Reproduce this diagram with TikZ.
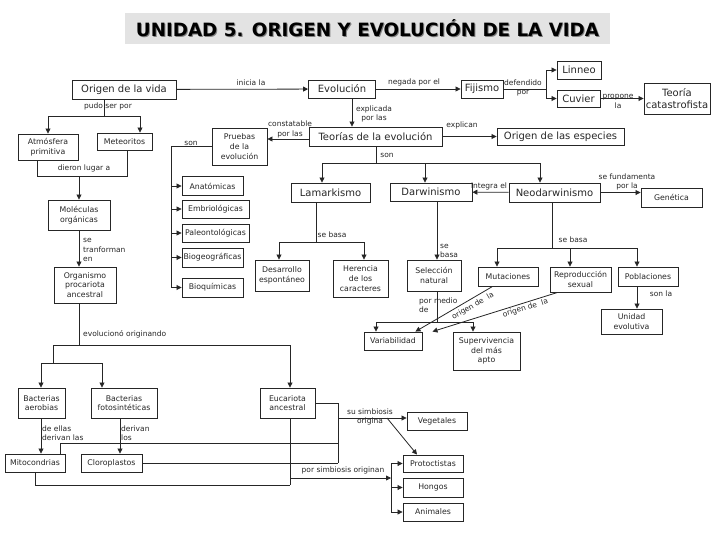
\documentclass[tikz,border=0pt]{standalone}
\usepackage{fontspec}
\setmainfont{DejaVu Sans}
\usetikzlibrary{arrows.meta,positioning}
\tikzset{>={Triangle[length=5pt,width=5pt]}}
\colorlet{penColor}{black!85}
\colorlet{titleFill}{gray!22}
\tikzset{
  bigBox/.style={draw=penColor,line width=0.9pt,text=penColor,inner sep=1pt,align=center,font=\fontsize{10}{12.5}\selectfont},
  smallBox/.style={draw=penColor,line width=0.9pt,text=penColor,inner sep=0.5pt,align=center,font=\fontsize{7.8}{9.6}\selectfont},
  linkText/.style={text=penColor,inner sep=0pt,font=\fontsize{7.5}{9.5}\selectfont},
  link/.style={draw=penColor,line width=0.8pt},
}

\begin{document}
\begin{tikzpicture}[x=1pt,y=-1pt]
\useasboundingbox (0,0) rectangle (728,546);
% titulo
\node[fill=titleFill,minimum width=485pt,minimum height=31pt] (titulo) at (367.5,28) {};
\node[text=gray,font=\bfseries\fontsize{18.3}{20}\selectfont] at ([shift={(1pt,-1pt)}]titulo.center) {UNIDAD 5. ORIGEN Y EVOLUCIÓN DE LA VIDA};
\node[text=black,font=\bfseries\fontsize{18.3}{20}\selectfont] at (titulo.center) {UNIDAD 5. ORIGEN Y EVOLUCIÓN DE LA VIDA};

% fila superior
\node[bigBox,minimum width=104pt,minimum height=19pt] (origen) at (124,89.5) {Origen de la vida};
\node[bigBox,minimum width=67pt,minimum height=18pt] (evol) at (342,89) {Evolución};
\node[bigBox,minimum width=42pt,minimum height=18pt] (fij) at (482,89) {Fijismo};
\node[bigBox,minimum width=44pt,minimum height=18pt] (linneo) at (579,70) {Linneo};
\node[bigBox,minimum width=43pt,minimum height=17pt] (cuvier) at (578.5,98.5) {Cuvier};
\node[bigBox,minimum width=66pt,minimum height=31pt] (catas) at (677,98.5) {Teoría\\catastrofista};
\node[bigBox,minimum width=133pt,minimum height=19pt] (teor) at (375.5,136.5) {Teorías de la evolución};
\node[bigBox,minimum width=127pt,minimum height=17pt] (espec) at (560.5,136.5) {Origen de las especies};
\node[smallBox,minimum width=55pt,minimum height=37pt] (pruebas) at (239.5,146.5) {Pruebas\\de la\\evolución};

% columna izquierda
\node[smallBox,minimum width=60pt,minimum height=26pt] (atmos) at (48,147) {Atmósfera\\primitiva};
\node[smallBox,minimum width=55pt,minimum height=17pt] (meteor) at (124.5,141.5) {Meteoritos};
\node[smallBox,minimum width=62pt,minimum height=30pt] (molec) at (79,215) {Moléculas\\orgánicas};
\node[smallBox,minimum width=62pt,minimum height=36pt] (organ) at (85,285) {Organismo\\procariota\\ancestral};
\node[smallBox,minimum width=47pt,minimum height=30pt] (bacaer) at (41.5,403) {Bacterias\\aerobias};
\node[smallBox,minimum width=66pt,minimum height=30pt] (bacfot) at (124,403) {Bacterias\\fotosintéticas};
\node[smallBox,minimum width=55pt,minimum height=30pt] (eucar) at (287.5,403) {Eucariota\\ancestral};
\node[smallBox,minimum width=60pt,minimum height=18pt] (mitoc) at (35,463) {Mitocondrias};
\node[smallBox,minimum width=61pt,minimum height=18pt] (clorop) at (111.5,463) {Cloroplastos};

% pruebas
\node[smallBox,minimum width=61pt,minimum height=19pt] (anat) at (212.5,186) {Anatómicas};
\node[smallBox,minimum width=67pt,minimum height=18pt] (embri) at (215.5,209) {Embriológicas};
\node[smallBox,minimum width=67pt,minimum height=18pt] (paleo) at (215.5,233) {Paleontológicas};
\node[smallBox,minimum width=61pt,minimum height=19pt] (biogeo) at (212.5,257.5) {Biogeográficas};
\node[smallBox,minimum width=61pt,minimum height=19pt] (bioq) at (212.5,287.5) {Bioquímicas};

% teorias
\node[bigBox,minimum width=79pt,minimum height=19pt] (lamar) at (330.5,192.5) {Lamarkismo};
\node[bigBox,minimum width=82pt,minimum height=18pt] (darw) at (431,192) {Darwinismo};
\node[bigBox,minimum width=91pt,minimum height=19pt] (neo) at (554.5,192.5) {Neodarwinismo};
\node[smallBox,minimum width=61pt,minimum height=19pt] (genet) at (671.5,197.5) {Genética};
\node[smallBox,minimum width=54pt,minimum height=31pt] (desarr) at (282,275.5) {Desarrollo\\espontáneo};
\node[smallBox,minimum width=55pt,minimum height=37pt] (heren) at (360.5,278.5) {Herencia\\de los\\caracteres};
\node[smallBox,minimum width=54pt,minimum height=31pt] (selec) at (434,275.5) {Selección\\natural};
\node[smallBox,minimum width=60pt,minimum height=19pt] (mutac) at (508,276.5) {Mutaciones};
\node[smallBox,minimum width=61pt,minimum height=25pt] (reprod) at (580.5,279.5) {Reproducción\\sexual};
\node[smallBox,minimum width=60pt,minimum height=19pt] (poblac) at (648,276.5) {Poblaciones};
\node[smallBox,minimum width=61pt,minimum height=25pt] (unidad) at (631.5,321.5) {Unidad\\evolutiva};
\node[smallBox,minimum width=58pt,minimum height=18pt] (variab) at (393,341) {Variabilidad};
\node[smallBox,minimum width=67pt,minimum height=38pt] (superv) at (486.5,351) {Supervivencia\\del más\\apto};

% reinos
\node[smallBox,minimum width=60pt,minimum height=18pt] (veget) at (437,421) {Vegetales};
\node[smallBox,minimum width=60pt,minimum height=17pt] (protoc) at (433,463.5) {Protoctistas};
\node[smallBox,minimum width=60pt,minimum height=19pt] (hongos) at (433,487.5) {Hongos};
\node[smallBox,minimum width=60pt,minimum height=18pt] (animal) at (433,512) {Animales};

% textos de enlace
\node[linkText] at (251,83) {inicia la};
\node[linkText] at (414,82) {negada por el};
\node[linkText,align=center] at (523,88) {defendido\\por};
\node[linkText,align=center] at (618,101.5) {propone\\la};
\node[linkText,align=center] at (374,114) {explicada\\por las};
\node[linkText,align=center] at (290,129.5) {constatable\\por las};
\node[linkText] at (462,125) {explican};
\node[linkText] at (191,143) {son};
\node[linkText] at (108,106) {pudo ser por};
\node[linkText] at (84,168) {dieron lugar a};
\node[linkText,align=left,anchor=west] at (83,250) {se\\tranforman\\en};
\node[linkText,anchor=west] at (83,334) {evolucionó originando};
\node[linkText,align=left,anchor=west] at (42,433) {de ellas\\derivan las};
\node[linkText,align=left,anchor=west] at (121,433) {derivan\\los};
\node[linkText,align=center] at (370,417) {su simbiosis\\origina};
\node[linkText] at (343,470) {por simbiosis originan};
\node[linkText] at (387,155) {son};
\node[linkText] at (489,186) {integra el};
\node[linkText,align=center] at (627,182) {se fundamenta\\por la};
\node[linkText] at (332,235) {se basa};
\node[linkText,align=left,anchor=west] at (440,251) {se\\basa};
\node[linkText,align=left,anchor=west] at (419,305) {por medio\\de};
\node[linkText] at (573,240) {se basa};
\node[linkText] at (661,294) {son la};

% conectores fila superior
\draw[link,->] (origen) -- (evol);
\draw[link,->] (evol) -- (fij);
\coordinate (jfij) at (546,89);
\draw[link] (fij) -- (jfij);
\draw[link,->] (jfij) |- (linneo);
\draw[link,->] (jfij) |- (cuvier);
\draw[link,->] (cuvier) -- (catas);
\coordinate (ea) at ([xshift=10pt]evol.south);
\draw[link,->] (ea) -- (ea |- teor.north);
\coordinate (ta) at ([yshift=-2.5pt]teor.west);
\draw[link,->] (ta) -- (ta -| pruebas.east);
\draw[link,->] (teor) -- (espec);
\coordinate (jpru) at (171,146.5);
\draw[link] (pruebas) -- (jpru);
\foreach \n in {anat,embri,paleo,biogeo,bioq}
  \draw[link,->] (jpru) |- (\n);

% teorias
\coordinate (jteo) at (376,163);
\draw[link] (teor.south -| jteo) -- (jteo);
\coordinate (tl) at (322,163);
\coordinate (tm) at (425,163);
\coordinate (tr) at (540,163);
\draw[link] (tl) -- (tr);
\draw[link,->] (tl) -- (tl |- lamar.north);
\draw[link,->] (tm) -- (tm |- darw.north);
\draw[link,->] (tr) -- (tr |- neo.north);
\draw[link,->] (neo) -- (darw);
\draw[link,->] (neo.east) -- (neo.east -| genet.west);

\coordinate (jlam) at (316,242);
\draw[link] (lamar.south -| jlam) -- (jlam);
\coordinate (ll) at (279,242);
\coordinate (lr) at (364,242);
\draw[link] (ll) -- (lr);
\draw[link,->] (ll) -- (ll |- desarr.north);
\draw[link,->] (lr) -- (lr |- heren.north);

\coordinate (sv) at (437,322);
\draw[link,->] (darw.south -| sv) -- (selec.north -| sv);
\draw[link] (selec.south -| sv) -- (sv);
\coordinate (vl) at (376,322);
\coordinate (vr) at (473,322);
\draw[link] (vl) -- (vr);
\draw[link,->] (vl) -- (vl |- variab.north);
\draw[link,->] (vr) -- (vr |- superv.north);

\coordinate (jneo) at (552,248);
\draw[link] (neo.south -| jneo) -- (jneo);
\coordinate (ml) at (497,248);
\coordinate (mm) at (570,248);
\coordinate (mr) at (637,248);
\draw[link] (ml) -- (mr);
\draw[link,->] (ml) -- (ml |- mutac.north);
\draw[link,->] (mm) -- (mm |- reprod.north);
\draw[link,->] (mr) -- (mr |- poblac.north);
\draw[link,->] (poblac.south -| mr) -- (unidad.north -| mr);

\coordinate (ma) at ([xshift=15pt]mutac.south west);
\coordinate (va) at ([xshift=-7pt]variab.north east);
\draw[link,->] (ma) -- node[linkText,sloped,below=3pt,pos=0.3] {origen de\ \ la} (va);
\coordinate (ra) at ([xshift=8pt]reprod.south west);
\coordinate (vb) at ([xshift=10pt]variab.north east);
\draw[link,->] (ra) -- node[linkText,sloped,below=1.5pt,pos=0.27] {origen de\ \ la} (vb);

% columna izquierda
\coordinate (jori) at (104,116);
\draw[link] (origen.south -| jori) -- (jori);
\coordinate (ol) at (48,116);
\coordinate (ox) at (140,116);
\draw[link] (ol) -- (ox);
\draw[link,->] (ol) -- (ol |- atmos.north);
\draw[link,->] (ox) -- (ox |- meteor.north);
\coordinate (dl) at (37,176);
\coordinate (dr) at (127,176);
\coordinate (dm) at (79,176);
\draw[link] (atmos.south -| dl) -- (dl) -- (dr) -- (meteor.south -| dr);
\draw[link,->] (dm) -- (dm |- molec.north);
\draw[link,->] (molec.south -| dm) -- (organ.north -| dm);

\coordinate (jorg) at (79,345);
\draw[link] (organ.south -| jorg) -- (jorg);
\coordinate (el) at (53,345);
\coordinate (er) at (290,345);
\draw[link] (el) -- (er);
\draw[link,->] (er) -- (er |- eucar.north);
\coordinate (bj) at (53,363);
\coordinate (bl) at (41,363);
\coordinate (br) at (102,363);
\draw[link] (el) -- (bj);
\draw[link] (bl) -- (br);
\draw[link,->] (bl) -- (bl |- bacaer.north);
\draw[link,->] (br) -- (br |- bacfot.north);
\draw[link,->] (bacaer.south -| bl) -- (mitoc.north -| bl);
\coordinate (fx) at (120,418);
\draw[link,->] (bacfot.south -| fx) -- (clorop.north -| fx);

% simbiosis
\coordinate (ek) at (338,463);
\draw[link] (eucar.east) -| (ek);
\coordinate (mk) at (60,443);
\draw[link] (mitoc.north -| mk) |- (ek |- mk);
\draw[link] (clorop.east) -- (clorop.east -| ek);
\coordinate (sj) at (338,418);
\draw[link,->] (sj) -- (sj -| veget.west);
\coordinate (sd) at (387,418);
\draw[link,->] (sd) -- ([xshift=-16pt]protoc.north);
\coordinate (mb) at (290,485);
\draw[link] (mitoc.south) |- (mb);
\draw[link] (eucar.south -| mb) -- (mb);
\coordinate (pj) at (290,478);
\coordinate (pk) at (391,478);
\draw[link,->] (pj) -- (pk);
\draw[link] (protoc.west -| pk) -- (animal.west -| pk);
\foreach \n in {protoc,hongos,animal}
  \draw[link,->] (\n.west -| pk) -- (\n.west);
\end{tikzpicture}
\end{document}
